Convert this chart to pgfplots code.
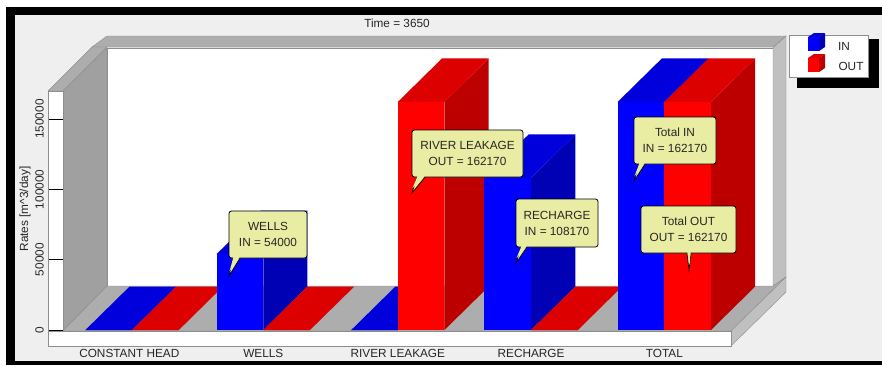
\documentclass[border=0pt]{standalone}
\usepackage{pgfplots}
\pgfplotsset{compat=1.18}
\usepackage{fontspec}
\setmainfont{Liberation Sans}
\definecolor{bgpanel}{HTML}{EFEFEF}
\definecolor{ledge}{HTML}{ADADAD}
\definecolor{leftwall}{HTML}{A0A0A0}
\definecolor{rightwall}{HTML}{C0C0C0}
\definecolor{edge}{HTML}{8E8E8E}
\definecolor{inFront}{HTML}{0000FF}
\definecolor{inTop}{HTML}{0000DC}
\definecolor{inSide}{HTML}{0000B4}
\definecolor{outFront}{HTML}{FF0000}
\definecolor{outTop}{HTML}{DC0000}
\definecolor{outSide}{HTML}{BC0000}
\definecolor{tipfill}{HTML}{E8EDA3}
\definecolor{ink}{HTML}{262626}
\newcommand{\chartfont}{\fontsize{11.8}{16}\selectfont}

% One column drawn as three faces: left edge, value, value plus depth, colour prefix
\newcommand{\cuboid}[4]{%
  \pgfmathsetmacro{\xa}{#1}%
  \pgfmathsetmacro{\xb}{#1+0.35}%
  \pgfmathsetmacro{\xc}{#1+0.35+0.332}%
  \pgfmathsetmacro{\xd}{#1+0.332}%
  \addplot[fill=#4Side,draw=none,forget plot] coordinates {(\xb,0) (\xc,30924) (\xc,#3) (\xb,#2)} -- cycle;
  \addplot[fill=#4Top,draw=none,forget plot] coordinates {(\xa,#2) (\xb,#2) (\xc,#3) (\xd,#3)} -- cycle;
  \addplot[fill=#4Front,draw=none,forget plot] coordinates {(\xa,0) (\xb,0) (\xb,#2) (\xa,#2)} -- cycle;
}

% Speech-bubble note: left, top, right, bottom, tail base x1, x2, tip x, tip y, text
\newcommand{\note}[9]{%
  \draw[black,line width=0.7pt,fill=tipfill] (#5,#4) -- (#7,#8) -- (#6,#4);
  \draw[black,line width=0.8pt,fill=tipfill,rounded corners=2.5pt] (#1,#2) rectangle (#3,#4);
  \fill[tipfill] (#5+0.4,#4-0.8) -- (#7+0.6,#8-5) -- (#6-0.4,#4-0.8) -- cycle;
  \node[align=center,font=\chartfont,text=ink,inner sep=0pt] at ({(#1+#3)/2},{(#2+#4)/2}) {#9};
}

\begin{document}
\begin{tikzpicture}[x=1pt,y=-1pt]
  % Window background and heavy border
  \fill[white] (0,0) rectangle (882,365);
  \fill[bgpanel] (15,15) rectangle (882,361);
  \fill[black] (6,7) rectangle (882,15);
  \fill[black] (6,7) rectangle (15,365);
  \fill[black] (6,361) rectangle (882,365);

  % Chart box: walls, floor and front strips
  \filldraw[draw=edge,fill=white] (107,48) rectangle (773,286);
  \filldraw[draw=edge,fill=ledge] (92,47) -- (107,36) -- (786,36) -- (773,47) -- cycle;
  \filldraw[draw=edge,fill=ledge] (48,91) -- (92,47) -- (107,47) -- (63,91) -- cycle;
  \filldraw[draw=edge,fill=leftwall] (63,91) -- (107,48) -- (107,286) -- (63,330) -- cycle;
  \filldraw[draw=edge,fill=rightwall] (773,48) -- (786,36) -- (786,277) -- (773,286) -- cycle;
  \filldraw[draw=edge,fill=ledge] (63,331) -- (107,286) -- (773,286) -- (786,277) -- (731,331) -- cycle;
  \filldraw[draw=edge,fill=rightwall] (731,331) -- (786,277) -- (786,292) -- (731,346) -- cycle;
  \filldraw[draw=edge,fill=white] (48,331) rectangle (731,346);
  \filldraw[draw=edge,fill=white] (48,91) rectangle (63,331);

  \begin{axis}[
    at={(48pt,-346pt)}, anchor=south west,
    scale only axis, width=683pt, height=255pt,
    xmin=-0.6304, xmax=4.4953,
    ymin=-11374, ymax=169905,
    clip=false,
    axis x line*=bottom, axis y line*=left,
    axis line style={draw=edge},
    xtick={-0.02,0.985,1.995,2.995,3.995},
    xticklabels={CONSTANT HEAD,WELLS,RIVER LEAKAGE,RECHARGE,TOTAL},
    xtick style={draw=none},
    ytick={0,50000,100000,150000},
    ytick style={draw=black,line width=0.8pt},
    tick align=inside,
    major tick length=15pt,
    /pgf/number format/fixed,
    /pgf/number format/assume math mode=true,
    /pgf/number format/1000 sep={},
    scaled y ticks=false,
    tick label style={font=\chartfont,text=ink},
    xticklabel style={inner sep=0pt,anchor=north,yshift=-3pt},
    yticklabel style={rotate=90,anchor=south,inner sep=0pt,yshift=4pt},
  ]
    % Columns, back to front and left to right
    \cuboid{-0.35}{0}{30924}{in}
    \cuboid{0}{0}{30924}{out}
    \cuboid{0.635}{54000}{84924}{in}
    \cuboid{0.985}{0}{30924}{out}
    \cuboid{1.645}{0}{30924}{in}
    \cuboid{1.995}{162170}{193094}{out}
    \cuboid{2.645}{108170}{139094}{in}
    \cuboid{2.995}{0}{30924}{out}
    \cuboid{3.645}{162170}{193094}{in}
    \cuboid{3.995}{162170}{193094}{out}
  \end{axis}

  % Titles
  \node[font=\chartfont,text=ink,inner sep=0pt] at (397,23) {Time = 3650};
  \node[rotate=90,font=\chartfont,text=ink,inner sep=0pt] at (25,209) {Rates [m\^{}3/day]};

  % Value notes
  \note{229}{211}{307}{258}{233}{240}{229}{276}{WELLS\\IN = 54000}
  \note{412}{130}{523}{177}{417}{425}{412}{193}{RIVER LEAKAGE\\OUT = 162170}
  \note{516}{199}{598}{247}{521}{527}{516}{263}{RECHARGE\\IN = 108170}
  \note{634}{117}{716}{164}{639}{645}{634}{181}{Total IN\\IN = 162170}
  \note{641}{206}{736}{253}{687}{691}{689}{270}{Total OUT\\OUT = 162170}

  % Legend
  \fill[black] (797,39) rectangle (879,88);
  \filldraw[draw=edge,line width=0.8pt,fill=white] (789,35) rectangle (868,77);
  \fill[inSide] (819,37) -- (825,33) -- (825,47) -- (819,51) -- cycle;
  \fill[inTop] (808,37) -- (814,33) -- (825,33) -- (819,37) -- cycle;
  \fill[inFront] (808,37) rectangle (819,51);
  \fill[outSide] (819,58) -- (825,54) -- (825,68) -- (819,72) -- cycle;
  \fill[outTop] (808,58) -- (814,54) -- (825,54) -- (819,58) -- cycle;
  \fill[outFront] (808,58) rectangle (819,72);
  \node[font=\chartfont,text=ink,inner sep=0pt] at (844,46) {IN};
  \node[font=\chartfont,text=ink,inner sep=0pt] at (851,66) {OUT};
\end{tikzpicture}
\end{document}
